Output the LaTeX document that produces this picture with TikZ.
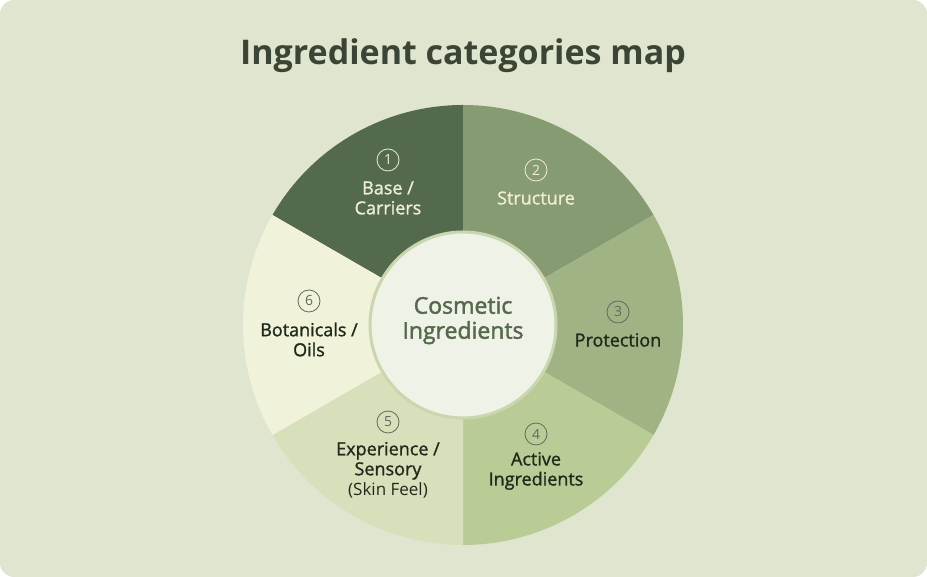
\documentclass[tikz,border=0pt]{standalone}
\usepackage{fontspec}
\setmainfont{Open Sans}
\newfontfamily\medfont{Open Sans}[FakeBold=1.2]
\newfontfamily\hubfont{Open Sans}[FakeBold=1.8]
\definecolor{bgcol}{HTML}{DFE5CF}
\definecolor{segA}{HTML}{536A4D}
\definecolor{segB}{HTML}{879B73}
\definecolor{segC}{HTML}{9FB385}
\definecolor{segD}{HTML}{B9CC96}
\definecolor{segE}{HTML}{D7DFBB}
\definecolor{segF}{HTML}{F0F2D9}
\definecolor{hubfill}{HTML}{EEF2E7}
\definecolor{hubring}{HTML}{C9D6AE}
\definecolor{titlecol}{HTML}{3A4535}
\definecolor{hubtext}{HTML}{56694C}
\definecolor{lighttext}{HTML}{F0EED3}
\definecolor{darktext}{HTML}{1F2A1C}
\tikzset{
  num/.style={circle, draw, line width=0.8, inner sep=0, minimum size=22, font=\fontsize{14}{14}\selectfont},
  lbl/.style={align=center, inner sep=0, font=\medfont\fontsize{18}{20}\selectfont},
}
\begin{document}
\begin{tikzpicture}[x=1pt,y=1pt]
\useasboundingbox (0,0) rectangle (927,577);
\fill[bgcol, rounded corners=14] (0,0) rectangle (927,577);
\node[font=\fontsize{34}{40}\selectfont\bfseries, text=titlecol] (title) at (463,521) {Ingredient categories map};
\coordinate (c) at (463,252);
% ring segments
\fill[segA] (c) -- ++(90:220) arc[start angle=90, end angle=150, radius=220] -- cycle;
\fill[segB] (c) -- ++(30:220) arc[start angle=30, end angle=90, radius=220] -- cycle;
\fill[segC] (c) -- ++(-30:220) arc[start angle=-30, end angle=30, radius=220] -- cycle;
\fill[segD] (c) -- ++(-90:220) arc[start angle=-90, end angle=-30, radius=220] -- cycle;
\fill[segE] (c) -- ++(210:220) arc[start angle=210, end angle=270, radius=220] -- cycle;
\fill[segF] (c) -- ++(150:220) arc[start angle=150, end angle=210, radius=220] -- cycle;
% hub
\fill[hubfill] (c) circle (94);
\draw[hubring, line width=3] (c) circle (93);
\node[lbl, font=\hubfont\fontsize{23}{25}\selectfont, text=hubtext] (hub) at (463,256.5) {Cosmetic\\Ingredients};
% labels
\node[num, draw=lighttext, text=lighttext] (n1) at (388,417) {1};
\node[lbl, text=lighttext] (base) at (388,379) {Base /\\Carriers};
\node[num, draw=lighttext, text=lighttext] (n2) at (536,407) {2};
\node[lbl, text=lighttext] (struct) at (536,379) {Structure};
\node[num, draw=darktext!70, text=darktext!70] (n3) at (618,265) {3};
\node[lbl, text=darktext] (prot) at (618,237) {Protection};
\node[num, draw=darktext!70, text=darktext!70] (n4) at (536,143) {4};
\node[lbl, text=darktext] (active) at (536,106) {Active\\Ingredients};
\node[num, draw=darktext!70, text=darktext!70] (n5) at (388,155) {5};
\node[lbl, text=darktext] (exper) at (388,107) {Experience /\\Sensory\\{\normalfont\fontsize{17}{20}\selectfont(Skin Feel)}};
\node[num, draw=darktext!70, text=darktext!70] (n6) at (309,276) {6};
\node[lbl, text=darktext] (botan) at (309,237.5) {Botanicals /\\Oils};
\end{tikzpicture}
\end{document}
